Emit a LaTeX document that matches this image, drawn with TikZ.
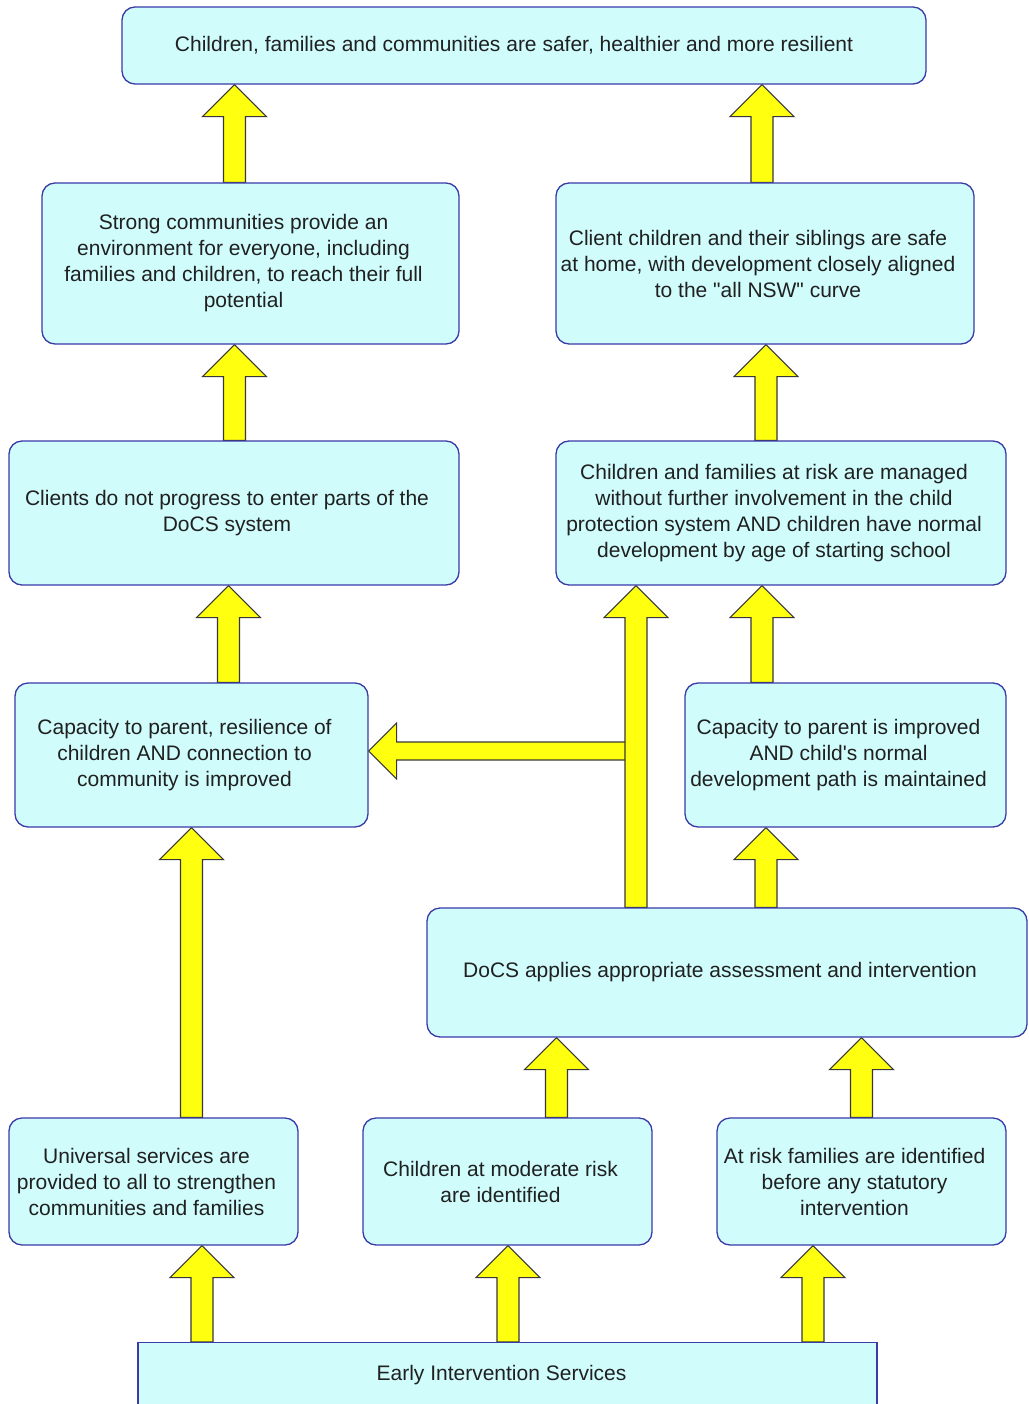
\documentclass[tikz,border=0pt]{standalone}
\usepackage{fontspec}
\setmainfont{Liberation Sans}
\usetikzlibrary{calc}
\pgfdeclarelayer{background}
\pgfsetlayers{background,main}
\definecolor{boxfill}{HTML}{D0FCFC}
\definecolor{boxline}{HTML}{3A3AA8}
\definecolor{arrfill}{HTML}{FFFF10}
\definecolor{arrline}{HTML}{383838}
\definecolor{txtcol}{HTML}{202020}
\tikzset{
  box/.style={draw=boxline, fill=boxfill, line width=1.3pt, rounded corners=13pt,
    inner sep=0pt, font=\fontsize{21}{26}\selectfont, text=txtcol, align=center},
  sqbox/.style={draw=boxline, fill=boxfill, line width=1.3pt,
    inner sep=0pt, font=\fontsize{21}{26}\selectfont, text=txtcol, align=center},
  blockarrow/.style={fill=arrfill, draw=arrline, line width=1.1pt, line join=miter},
  tl/.style={label={[font=\fontsize{21}{26}\selectfont, text=txtcol, align=center, xshift=-7pt]center:{#1}}},
  tlw/.style={label={[font=\fontsize{21}{26}\selectfont, text=txtcol, align=center, xshift=-10pt]center:{#1}}}
}
% vertical block arrow: #1 x-coordinate name, #2 lower anchor, #3 upper anchor
\newcommand\myuparrow[3]{%
  \path[blockarrow] let \p1=(#2 -| #1), \p2=(#3 -| #1) in
    (\x1-11pt,\y1) -- (\x1-11pt,\y2-32pt) -- (\x1-32pt,\y2-32pt) -- (\x1,\y2)
    -- (\x1+32pt,\y2-32pt) -- (\x1+11pt,\y2-32pt) -- (\x1+11pt,\y1) -- cycle;}
\begin{document}
\begin{tikzpicture}[x=1pt,y=-1pt]
\useasboundingbox (0,0) rectangle (1028,1404);
\begin{pgfonlayer}{background}
\fill[white] (0,0) rectangle (1028,1404);
\end{pgfonlayer}

% boxes
\node[box, minimum width=804pt, minimum height=77pt, tlw={Children, families and communities are safer, healthier and more resilient}] (b1) at (524,45.5) {};
\node[box, minimum width=417pt, minimum height=161pt, tl={Strong communities provide an\\environment for everyone, including\\families and children, to reach their full\\potential}] (b2) at (250.5,263.5) {};
\node[box, minimum width=418pt, minimum height=161pt, tl={Client children and their siblings are safe\\at home, with development closely aligned\\to the \textquotedbl all NSW\textquotedbl\ curve}] (b3) at (765,263.5) {};
\node[box, minimum width=450pt, minimum height=144pt, tl={Clients do not progress to enter parts of the\\DoCS system}] (b4) at (234,513) {};
\node[box, minimum width=450pt, minimum height=144pt, tl={Children and families at risk are managed\\without further involvement in the child\\protection system AND children have normal\\development by age of starting school}] (b5) at (781,513) {};
\node[box, minimum width=353pt, minimum height=144pt, tl={Capacity to parent, resilience of\\children AND connection to\\community is improved}] (b6) at (191.5,755) {};
\node[box, minimum width=321pt, minimum height=144pt, tl={Capacity to parent is improved\\AND child\textquotesingle s normal\\development path is maintained}] (b7) at (845.5,755) {};
\node[box, minimum width=600pt, minimum height=129pt, tl={DoCS applies appropriate assessment and intervention}] (b8) at (727,972.5) {};
\node[box, minimum width=289pt, minimum height=127pt, tl={Universal services are\\provided to all to strengthen\\communities and families}] (b9) at (153.5,1181.5) {};
\node[box, minimum width=289pt, minimum height=127pt, tl={Children at moderate risk\\are identified}] (b10) at (507.5,1181.5) {};
\node[box, minimum width=289pt, minimum height=127pt, tl={At risk families are identified\\before any statutory\\intervention}] (b11) at (861.5,1181.5) {};
\node[sqbox, anchor=north, minimum width=739pt, text height=38pt, text depth=42pt] (b12) at (507.5,1342) {\hspace*{-12pt}Early Intervention Services};

% arrow axis positions
\coordinate (xa) at (234.5,0);
\coordinate (xb) at (762,0);
\coordinate (xc) at (766,0);
\coordinate (xd) at (228.5,0);
\coordinate (xe) at (762,0);
\coordinate (xf) at (766,0);
\coordinate (xg) at (191.5,0);
\coordinate (xh) at (556.5,0);
\coordinate (xi) at (861.5,0);
\coordinate (xj) at (202,0);
\coordinate (xk) at (508,0);
\coordinate (xl) at (813,0);
\coordinate (xm) at (636,0);
\coordinate (tj) at (625,751);

\begin{pgfonlayer}{background}
\myuparrow{xa}{b2.north}{b1.south}
\myuparrow{xb}{b3.north}{b1.south}
\myuparrow{xa}{b4.north}{b2.south}
\myuparrow{xc}{b5.north}{b3.south}
\myuparrow{xd}{b6.north}{b4.south}
\myuparrow{xe}{b7.north}{b5.south}
\myuparrow{xf}{b8.north}{b7.south}
\myuparrow{xg}{b9.north}{b6.south}
\myuparrow{xh}{b10.north}{b8.south}
\myuparrow{xi}{b11.north}{b8.south}
\myuparrow{xj}{b12.north}{b9.south}
\myuparrow{xk}{b12.north}{b10.south}
\myuparrow{xl}{b12.north}{b11.south}
% horizontal branch to b6
\path[blockarrow] let \p1=(tj), \p2=(b6.east |- tj) in
  (\x1,\y1+9pt) -- (\x2+28pt,\y1+9pt) -- (\x2+28pt,\y1+28pt) -- (\x2,\y1)
  -- (\x2+28pt,\y1-28pt) -- (\x2+28pt,\y1-9pt) -- (\x1,\y1-9pt);
% big vertical arrow from b8 to b5
\myuparrow{xm}{b8.north}{b5.south}
\end{pgfonlayer}
\end{tikzpicture}
\end{document}
